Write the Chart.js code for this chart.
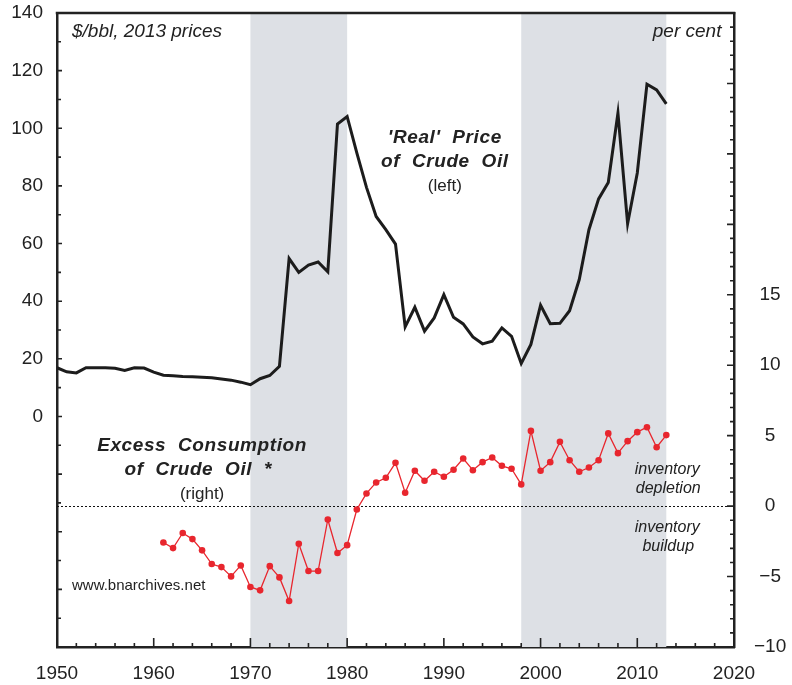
<!DOCTYPE html>
<html>
<head>
<meta charset="utf-8">
<script src="https://cdn.jsdelivr.net/npm/chart.js@4"></script>
<style>
  body { margin: 0; background: #fff; }
  canvas { display: block; }
</style>
</head>
<body>
<canvas id="oilChart" width="792" height="685"></canvas>
<script>
// real price of crude oil, $/bbl in 2013 prices (left axis)
const priceYears = [1950, 1951, 1952, 1953, 1954, 1955, 1956, 1957, 1958, 1959,
  1960, 1961, 1962, 1963, 1964, 1965, 1966, 1967, 1968, 1969,
  1970, 1971, 1972, 1973, 1974, 1975, 1976, 1977, 1978, 1979,
  1980, 1981, 1982, 1983, 1984, 1985, 1986, 1987, 1988, 1989,
  1990, 1991, 1992, 1993, 1994, 1995, 1996, 1997, 1998, 1999,
  2000, 2001, 2002, 2003, 2004, 2005, 2006, 2007, 2008, 2009,
  2010, 2011, 2012, 2013];
const priceValues = [16.9, 15.5, 15.1, 16.9, 16.9, 16.9, 16.7, 16.0, 16.9, 16.8,
  15.4, 14.3, 14.1, 13.9, 13.8, 13.6, 13.4, 13.0, 12.6, 11.9,
  11.0, 13.1, 14.2, 17.4, 54.8, 50.0, 52.5, 53.6, 50.2, 101.5,
  104.1, 91.5, 79.5, 69.4, 64.8, 59.8, 31.1, 37.9, 29.6, 34.2,
  42.3, 34.4, 32.1, 27.6, 25.2, 26.1, 30.7, 27.8, 18.4, 25.0,
  38.6, 32.2, 32.3, 36.7, 47.5, 64.8, 75.5, 81.2, 105.3, 66.9,
  84.5, 115.3, 113.3, 108.5];

// excess consumption of crude oil, per cent (right axis)
const excessYears = [1961, 1962, 1963, 1964, 1965, 1966, 1967, 1968, 1969,
  1970, 1971, 1972, 1973, 1974, 1975, 1976, 1977, 1978, 1979,
  1980, 1981, 1982, 1983, 1984, 1985, 1986, 1987, 1988, 1989,
  1990, 1991, 1992, 1993, 1994, 1995, 1996, 1997, 1998, 1999,
  2000, 2001, 2002, 2003, 2004, 2005, 2006, 2007, 2008, 2009,
  2010, 2011, 2012, 2013];
const excessValues = [-2.58, -2.98, -1.91, -2.34, -3.14, -4.11, -4.33, -4.99, -4.21,
  -5.74, -5.98, -4.26, -5.06, -6.74, -2.67, -4.61, -4.61, -0.95, -3.33,
  -2.77, -0.24, 0.90, 1.68, 2.01, 3.07, 0.95, 2.51, 1.80, 2.44,
  2.08, 2.58, 3.38, 2.55, 3.12, 3.45, 2.86, 2.65, 1.54, 5.34,
  2.51, 3.12, 4.56, 3.26, 2.44, 2.74, 3.26, 5.16, 3.76, 4.61,
  5.25, 5.60, 4.18, 5.04];

// shaded periods
const shadeStart = [1970, 1998];
const shadeEnd = [1980, 2013];

// axis ranges and tick labels
const xRange = [1950, 2020];
const leftRange = [-80, 140];
const leftLabels = [0, 20, 40, 60, 80, 100, 120, 140];
const rightRange = [-10, 35];
const rightLabels = [-10, -5, 0, 5, 10, 15];

const INK = '#222';
const FONT = "'Liberation Sans', Arial, sans-serif";

// drop the label overhang so the plot frame sits where the reference has it
const noOverhang = s => {
  s.paddingTop = 0;
  s.paddingBottom = 0;
  s.paddingLeft = 0;
  s.paddingRight = 0;
};

const chartExtras = {
  id: 'chartExtras',
  beforeDatasetsDraw(chart) {
    const { ctx, chartArea: a, scales: { x, y2 } } = chart;
    ctx.save();
    ctx.fillStyle = '#dde0e5';
    shadeStart.forEach((s, i) => {
      const x0 = x.getPixelForValue(s);
      const x1 = x.getPixelForValue(shadeEnd[i]);
      ctx.fillRect(x0, a.top, x1 - x0, a.bottom - a.top);
    });
    // dotted zero line on the right scale
    const yz = Math.round(y2.getPixelForValue(0)) + 0.5;
    ctx.strokeStyle = '#111';
    ctx.lineWidth = 1;
    ctx.setLineDash([2, 2]);
    ctx.beginPath();
    ctx.moveTo(a.left, yz);
    ctx.lineTo(a.right, yz);
    ctx.stroke();
    ctx.restore();
  },
  afterDraw(chart) {
    const { ctx, chartArea: a, scales: { x, y, y2 } } = chart;
    ctx.save();
    ctx.strokeStyle = INK;
    ctx.lineWidth = 1.6;
    ctx.beginPath();
    // inward tick marks
    for (let v = xRange[0]; v <= xRange[1]; v += 2) {
      const px = x.getPixelForValue(v);
      const len = v % 10 === 0 ? 9 : 4;
      ctx.moveTo(px, a.bottom);
      ctx.lineTo(px, a.bottom - len);
    }
    for (let v = leftRange[0]; v <= leftRange[1]; v += 10) {
      const py = y.getPixelForValue(v);
      const len = v % 20 === 0 ? 5 : 4;
      ctx.moveTo(a.left, py);
      ctx.lineTo(a.left + len, py);
    }
    for (let v = rightRange[0]; v <= rightRange[1]; v += 1) {
      const py = y2.getPixelForValue(v);
      const len = v % 5 === 0 ? 7 : 4;
      ctx.moveTo(a.right, py);
      ctx.lineTo(a.right - len, py);
    }
    ctx.stroke();
    // top frame line
    ctx.lineWidth = 2.5;
    ctx.beginPath();
    ctx.moveTo(a.left - 1.25, a.top);
    ctx.lineTo(a.right + 1.25, a.top);
    ctx.stroke();

    // annotations
    ctx.fillStyle = INK;
    ctx.textBaseline = 'middle';
    const text = (str, xv, yv, font, align, scale) => {
      ctx.font = font;
      ctx.textAlign = align;
      ctx.fillText(str, x.getPixelForValue(xv), (scale || y).getPixelForValue(yv));
    };
    text('$/bbl, 2013 prices', 1951.55, 133.5, 'italic 19px ' + FONT, 'left');
    text('per cent', 2018.7, 133.5, 'italic 19px ' + FONT, 'right');

    ctx.letterSpacing = '0.6px';
    text("'Real'  Price", 1990.1, 96.8, 'italic bold 19px ' + FONT, 'center');
    text('of  Crude  Oil', 1990.1, 88.4, 'italic bold 19px ' + FONT, 'center');
    text('Excess  Consumption', 1965.0, 4.3, 'italic bold 19px ' + FONT, 'center', y2);
    text('of  Crude  Oil  *', 1964.6, 2.6, 'italic bold 19px ' + FONT, 'center', y2);
    ctx.letterSpacing = '0px';
    text('(left)', 1990.1, 79.8, '17px ' + FONT, 'center');
    text('(right)', 1965.0, 0.85, '17px ' + FONT, 'center', y2);

    text('inventory', 2013.1, 2.6, 'italic 16px ' + FONT, 'center', y2);
    text('depletion', 2013.2, 1.25, 'italic 16px ' + FONT, 'center', y2);
    text('inventory', 2013.1, -1.55, 'italic 16px ' + FONT, 'center', y2);
    text('buildup', 2013.2, -2.9, 'italic 16px ' + FONT, 'center', y2);

    text('www.bnarchives.net', 1951.55, -58.7, '15px ' + FONT, 'left');
    ctx.restore();
  }
};

const ctx = document.getElementById('oilChart').getContext('2d');

new Chart(ctx, {
  type: 'line',
  data: {
    datasets: [{
      label: "'Real' Price of Crude Oil",
      data: priceYears.map((yr, i) => ({ x: yr, y: priceValues[i] })),
      yAxisID: 'y',
      borderColor: '#1c1c1c',
      borderWidth: 3,
      pointRadius: 0,
      tension: 0,
      fill: false
    }, {
      label: 'Excess Consumption of Crude Oil',
      data: excessYears.map((yr, i) => ({ x: yr, y: excessValues[i] })),
      yAxisID: 'y2',
      borderColor: '#e8262e',
      borderWidth: 1.3,
      pointRadius: 3.3,
      pointBorderWidth: 0,
      pointBackgroundColor: '#e8262e',
      tension: 0,
      fill: false
    }]
  },
  options: {
    responsive: false,
    animation: false,
    layout: { padding: { top: 13, left: 0, right: 0, bottom: 0 } },
    plugins: {
      legend: { display: false },
      tooltip: { enabled: false }
    },
    scales: {
      x: {
        type: 'linear',
        min: xRange[0],
        max: xRange[1],
        afterFit: s => { s.height = 38; noOverhang(s); },
        border: { display: true, color: INK, width: 2.5 },
        grid: { display: true, drawOnChartArea: false, drawTicks: false },
        ticks: {
          stepSize: 10,
          padding: 15,
          color: INK,
          font: { family: FONT, size: 19 },
          maxRotation: 0,
          callback: v => String(v)
        }
      },
      y: {
        type: 'linear',
        position: 'left',
        min: leftRange[0],
        max: leftRange[1],
        afterFit: s => { s.width = 57; noOverhang(s); },
        border: { display: true, color: INK, width: 2.5 },
        grid: { display: true, drawOnChartArea: false, drawTicks: false },
        ticks: {
          stepSize: 10,
          padding: 14,
          color: INK,
          font: { family: FONT, size: 19 },
          callback: v => leftLabels.includes(v) ? String(v) : ''
        }
      },
      y2: {
        type: 'linear',
        position: 'right',
        min: rightRange[0],
        max: rightRange[1],
        afterFit: s => { s.width = 58; noOverhang(s); },
        border: { display: true, color: INK, width: 2.5 },
        grid: { display: true, drawOnChartArea: false, drawTicks: false },
        ticks: {
          stepSize: 5,
          padding: 20,
          crossAlign: 'center',
          color: INK,
          font: { family: FONT, size: 19 },
          callback: v => rightLabels.includes(v) ? (v < 0 ? '\u2212' + Math.abs(v) : String(v)) : ''
        }
      }
    }
  },
  plugins: [chartExtras]
});
</script>
</body>
</html>
